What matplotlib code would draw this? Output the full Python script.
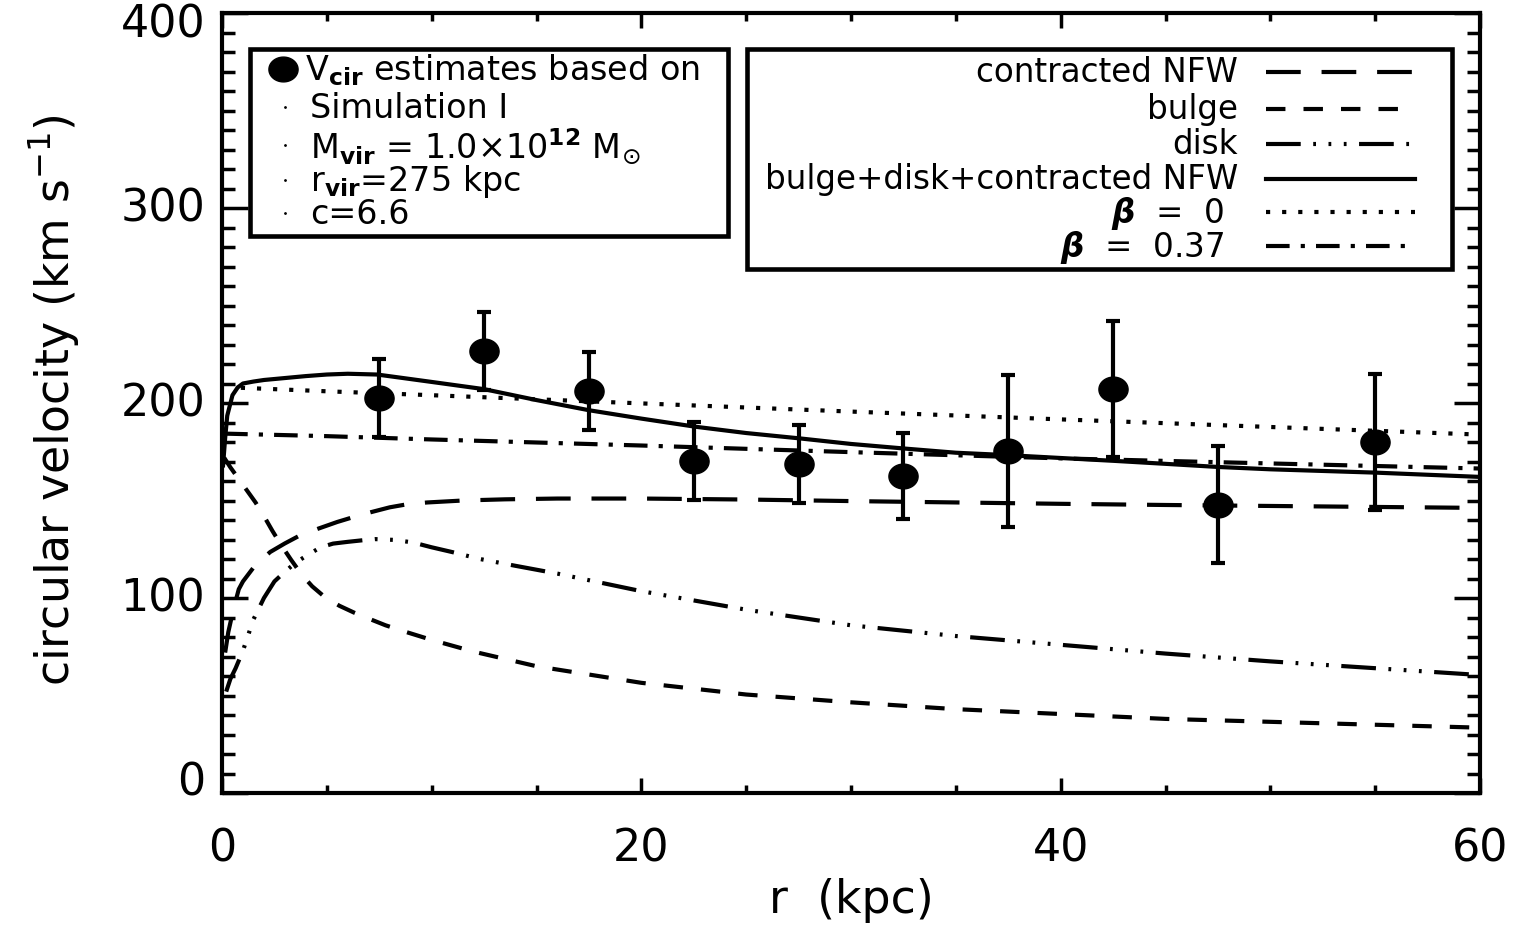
import numpy as np
import matplotlib
matplotlib.use('Agg')
import matplotlib.pyplot as plt
from matplotlib.path import Path
from matplotlib.patches import Rectangle
from matplotlib.ticker import MultipleLocator
import matplotlib.transforms as mtransforms

plt.rcParams['font.family'] = 'DejaVu Sans'
plt.rcParams['mathtext.fontset'] = 'dejavusans'
plt.rcParams['lines.scale_dashes'] = False

# V_cir estimates (binned)
r_obs = [7.5, 12.5, 17.5, 22.5, 27.5, 32.5, 37.5, 42.5, 47.5, 55.0]
v_obs = [202.5, 226.8, 206.3, 170.1, 168.6, 162.6, 175.3, 207.1, 147.9, 180.1]
v_err = [20, 20, 20, 20, 20, 22, 39, 35, 30, 35]

# contracted NFW
r_nfw = [0.15, 0.3, 0.55, 0.8, 1.0, 1.6, 2.3, 3.0, 3.7, 4.6, 5.5, 6.3, 7.1, 8.0, 8.9, 9.8,
         11.5, 13.5, 16, 20, 25, 30, 35, 40, 45, 50, 55, 60]
v_nfw = [72, 82.5, 94.5, 104.5, 108.5, 117, 123.6, 128, 132, 135.6, 139, 141.6, 144, 146.5, 148.2, 149,
         150, 150.6, 151, 151, 150.5, 149.7, 149, 148.3, 147.7, 147.2, 146.7, 146.2]

# bulge
r_bulge = [0.1, 0.4, 0.8, 1.2, 1.6, 2.0, 2.4, 2.8, 3.3, 3.8, 4.3, 4.9, 5.6, 6.3, 7.1, 7.8, 8.8,
           10, 12, 15, 20, 25, 30, 35, 40, 45, 50, 55, 60]
v_bulge = [172, 167, 161, 155, 149, 142, 134.5, 127.5, 119.5, 112, 106, 100.5, 96, 92.5, 89, 86, 82.5,
           78.5, 72.5, 65, 56.5, 50.5, 46.5, 43, 40.5, 38, 36.5, 35, 33.5]

# disk
r_disk = [0.2, 0.4, 0.65, 1.0, 1.5, 2.0, 2.5, 3.0, 3.5, 4.0, 4.7, 5.3, 6.0, 6.7, 7.3, 8.2, 9.1,
          10, 11, 12.3, 14, 16, 18, 20, 25, 30, 35, 40, 45, 50, 55, 60]
v_disk = [52, 58.5, 64, 73, 89, 100, 108.5, 113.5, 118, 121.5, 126, 127.9, 128.8, 129.6, 130.2, 129.8, 128.5,
          126, 123.5, 120, 116.5, 112.5, 108, 103.5, 94, 86, 80.5, 76, 71.5, 67.5, 64, 60.5]

# bulge+disk+contracted NFW
r_tot = [0.05, 0.15, 0.25, 0.5, 0.75, 1.0, 1.5, 2, 3, 4, 5, 6, 7.4, 8.5, 10, 12.5, 15, 17.5, 20,
         22.6, 25, 27.6, 30, 32.6, 35, 37.6, 40, 42.6, 45, 47.5, 50, 55, 60]
v_tot = [168, 182, 193.5, 204, 208, 210, 211, 211.8, 212.8, 213.8, 214.6, 215, 214.6, 213, 210.8, 207.1, 201.5, 196.3, 192,
         187.8, 184.6, 181.8, 179, 176.6, 174.5, 173.2, 171.8, 170.3, 168.8, 167.2, 166, 164.3, 162.1]

# Jeans estimates
r_b0 = [0.9, 5, 10, 20, 30, 40, 50, 60]
v_b0 = [207.8, 206, 204, 199.8, 195.6, 191.6, 187.7, 183.8]
r_b37 = [0.1, 5, 10, 20, 30, 40, 50, 60]
v_b37 = [184.3, 183, 181.3, 178.2, 174.8, 171.6, 169, 166.4]

y_ticks = [0, 100, 200, 300, 400]

# line styles (points)
ls_nfw = (0, (25, 15))
ls_bulge = (0, (14, 13))
ls_disk = (0, (25, 9, 2, 9, 2, 9, 2, 9))
ls_b0 = (0, (3, 8.6))
ls_b37 = (0, (17, 8, 3, 8))
lw = 3.0

t = np.linspace(0, 2 * np.pi, 60)
ellipse = Path(np.column_stack([np.cos(t), 0.85 * np.sin(t)]), closed=True)

fig = plt.figure(figsize=(15.13, 9.28), dpi=100)
ax = fig.add_axes([222 / 1513, 1 - 794 / 928, 1258 / 1513, 780 / 928])

ax.plot(r_nfw, v_nfw, color='k', lw=lw, ls=ls_nfw)
ax.plot(r_bulge, v_bulge, color='k', lw=lw, ls=ls_bulge)
ax.plot(r_disk, v_disk, color='k', lw=lw, ls=ls_disk)
ax.plot(r_tot, v_tot, color='k', lw=lw, ls='-')
ax.plot(r_b0, v_b0, color='k', lw=lw, ls=ls_b0)
ax.plot(r_b37, v_b37, color='k', lw=lw, ls=ls_b37)
ax.errorbar(r_obs, v_obs, yerr=v_err, fmt='none', ecolor='k', elinewidth=3, capsize=5, capthick=3, zorder=4)
ax.plot(r_obs, v_obs, ls='none', marker=ellipse, ms=21, color='k', zorder=5)

ax.set_xlim(0, 60)
ax.set_ylim(0, 400)
ax.xaxis.set_major_locator(MultipleLocator(20))
ax.xaxis.set_minor_locator(MultipleLocator(5))
ax.set_yticks(y_ticks)
ax.set_yticklabels([])
ax.yaxis.set_minor_locator(MultipleLocator(10))
ax.tick_params(axis='x', which='major', direction='in', length=11, width=2.5, top=True, bottom=True,
               labelsize=32, pad=24)
ax.tick_params(axis='x', which='minor', direction='in', length=5.5, width=2.5, top=True, bottom=True)
ax.tick_params(axis='y', which='major', direction='in', length=19, width=2.5, left=True, right=True)
ax.tick_params(axis='y', which='minor', direction='in', length=9.5, width=2.5, left=True, right=True)
for s in ax.spines.values():
    s.set_linewidth(3)

# y tick labels: end labels pulled a little inside the axis range, IDL style
for v in y_ticks:
    dy = 8 if v == y_ticks[0] else (-8 if v == y_ticks[-1] else 0)
    trans = mtransforms.blended_transform_factory(ax.transAxes, ax.transData) + \
        mtransforms.ScaledTranslation(-12 / 72, dy / 72, fig.dpi_scale_trans)
    ax.text(0, v, str(v), transform=trans, ha='right', va='center', fontsize=32)

ax.set_xlabel('r  (kpc)', fontsize=33, va='center')
ax.xaxis.set_label_coords(0.5, -0.136)
ax.set_ylabel(r'circular velocity (km s$^{-1}$)', fontsize=33, va='center')
ax.yaxis.set_label_coords(-0.133, 0.505)

# legends drawn in pixel coordinates
ov = fig.add_axes([0, 0, 1, 1], zorder=5)
ov.set_xlim(0, 1513)
ov.set_ylim(928, 0)
ov.axis('off')

ov.add_patch(Rectangle((250, 50), 478, 187, fill=False, lw=3.3, ec='k'))
ov.plot([283], [70], ls='none', marker=ellipse, ms=21, color='k')
ov.text(305, 70, r'$\mathregular{V}_{\mathbf{cir}}$ estimates based on', va='center', ha='left', fontsize=24)
left_rows = ['Simulation I',
             r'$\mathregular{M}_{\mathbf{vir}}$ = 1.0×10$^{\mathbf{12}}$ $\mathregular{M}_{\odot}$',
             r'$\mathregular{r}_{\mathbf{vir}}$=275 kpc',
             'c=6.6']
left_y = [108, 146, 181, 214]
for lab, y in zip(left_rows, left_y):
    ov.plot([285], [y], ls='none', marker='.', ms=2, color='k')
    ov.text(310, y, lab, va='center', ha='left', fontsize=24)

ov.add_patch(Rectangle((747, 50), 705, 220, fill=False, lw=3.3, ec='k'))
right_rows = ['contracted NFW', 'bulge', 'disk', 'bulge+disk+contracted NFW',
              r'$\boldsymbol{\beta}$  =  0', r'$\boldsymbol{\beta}$  =  0.37']
right_ls = [ls_nfw, ls_bulge, ls_disk, '-', ls_b0, ls_b37]
right_y = [73, 110, 145, 180, 213, 247]
right_x = [1238, 1238, 1238, 1238, 1224, 1224]
for lab, ls, y, xr in zip(right_rows, right_ls, right_y, right_x):
    ov.text(xr, y, lab, va='center', ha='right', fontsize=23.5)
    ov.plot([1266, 1415], [y, y], color='k', lw=lw, ls=ls)

fig.savefig('out.png', dpi=100)
